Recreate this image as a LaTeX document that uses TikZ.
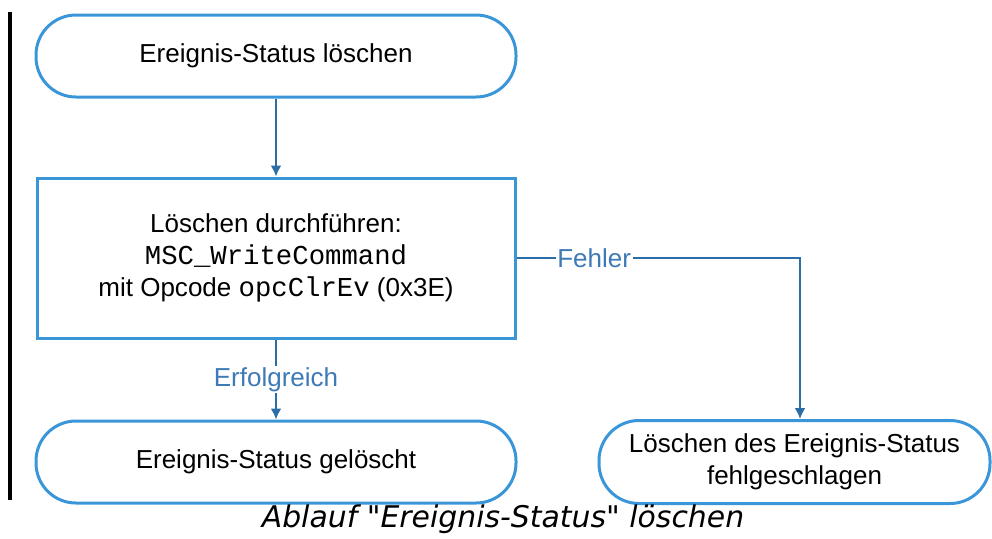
\documentclass[tikz,border=0pt]{standalone}
\usepackage{fontspec}
\setmainfont{Liberation Sans}
\setmonofont{Liberation Mono}[Scale=1.05]
\newfontfamily\capfont{DejaVu Sans}[Ligatures=TeXOff]
\usepackage{tikz}
\usetikzlibrary{
  arrows.meta,
  positioning
}
\definecolor{EdgeBlue}{RGB}{58,150,216}
\definecolor{FlowBlue}{RGB}{42,110,165}
\definecolor{TagBlue}{RGB}{62,122,182}

\begin{document}
\begin{tikzpicture}[
  font=\fontsize{14.8}{18}\selectfont,
  >={Latex[length=2.2mm,width=2.2mm]},
  node distance=1.56cm and 1.6cm,
  term/.style={draw=EdgeBlue, line width=0.06cm, rounded corners=0.8cm,
               align=center, minimum width=#1, minimum height=1.64cm, inner sep=2pt},
  term/.default=9.6cm,
  proc/.style={draw=EdgeBlue, line width=0.06cm, align=center,
               minimum width=9.56cm, minimum height=3.2cm, inner sep=2pt},
  arr/.style={->, draw=FlowBlue, line width=0.04cm},
  tag/.style={fill=white, text=TagBlue, inner sep=1pt},
]
  \useasboundingbox (0,0) rectangle (19.84,-10.76);
  \draw[line width=0.07cm] (0.2,-0.24) -- (0.2,-10.0);

  \node[term] (start) at (5.52,-1.12) {Ereignis-Status löschen};
  \node[proc, below=of start] (del) {Löschen durchführen:\\
    \texttt{MSC\_WriteCommand}\\mit Opcode \texttt{opcClrEv} (0x3E)};
  \node[term, below=1.6cm of del] (ok) {Ereignis-Status gelöscht};
  \node[term=7.82cm, minimum height=1.66cm, right=of ok] (fail)
    {Löschen des Ereignis-Status\\fehlgeschlagen};

  \draw[arr] (start) -- (del);
  \draw[arr] (del) -- node[tag] (erfolg) {Erfolgreich} (ok);
  \draw[arr] (del.east) -| node[tag, pos=0.137] (fehler) {Fehler}
    ([xshift=0.11cm]fail.north);

  \node[font=\capfont\itshape\fontsize{17}{20}\selectfont] (caption) at (10.06,-10.38)
    {Ablauf "Ereignis-Status" löschen};
\end{tikzpicture}
\end{document}
